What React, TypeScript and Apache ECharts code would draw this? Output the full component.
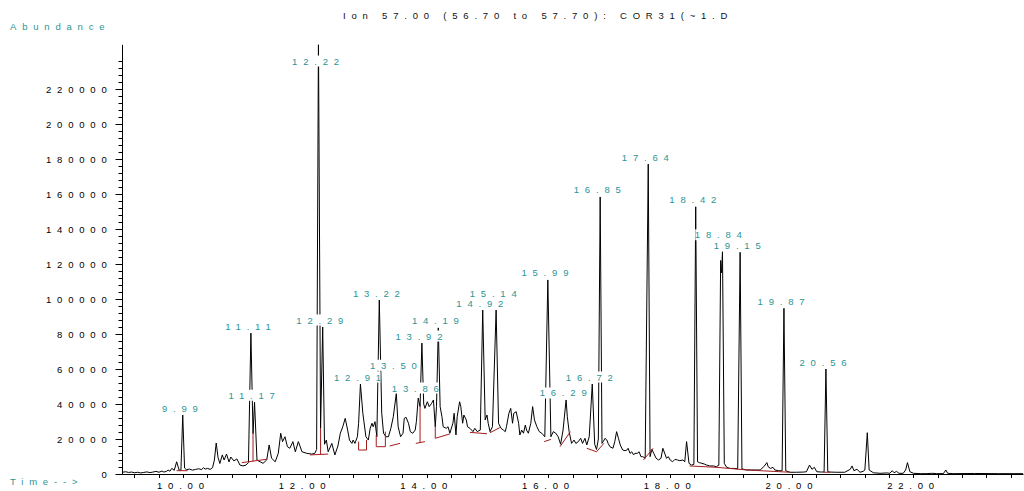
import React, { useEffect, useRef } from 'react';
import * as echarts from 'echarts';

// ---------- texts ----------
const titleText = 'Ion 57.00 (56.70 to 57.70): COR31(~1.D';
const yAxisTitle = 'Abundance';
const xAxisTitle = 'Time-->';

// ---------- data: total ion trace, [time (min), abundance] ----------
const tracePoints: [number, number][] = [
  [9.0, 1000], [9.05, 1300], [9.1, 900], [9.15, 1100], [9.2, 700], [9.25, 1000], [9.3, 600], [9.35, 900],
  [9.4, 1200], [9.45, 800], [9.5, 1100], [9.55, 1500], [9.6, 1000], [9.65, 1700], [9.68, 1100], [9.72, 1500],
  [9.75, 2200], [9.78, 1600], [9.81, 3200], [9.85, 2100], [9.89, 7000], [9.93, 2300], [9.96, 2000], [9.99, 33700],
  [10.02, 3400], [10.05, 2500], [10.1, 2800], [10.15, 2200], [10.2, 2600], [10.25, 3000], [10.3, 2500], [10.33, 3600],
  [10.36, 2800], [10.4, 3200], [10.44, 2600], [10.48, 3600], [10.51, 8000], [10.54, 17700], [10.57, 9500], [10.6, 6000],
  [10.64, 10900], [10.67, 8000], [10.71, 11400], [10.75, 6900], [10.78, 9700], [10.83, 7500], [10.88, 8600], [10.93, 5100],
  [10.98, 4600], [11.03, 5100], [11.07, 6500], [11.11, 80500], [11.145, 23000], [11.17, 41000], [11.21, 8000], [11.26, 7000],
  [11.31, 6100], [11.37, 8000], [11.41, 16600], [11.45, 9000], [11.51, 7000], [11.56, 11800], [11.6, 23300], [11.63, 18500],
  [11.67, 21300], [11.71, 15600], [11.75, 14700], [11.8, 18500], [11.84, 12700], [11.89, 18500], [11.95, 12700], [12.03, 11800],
  [12.11, 11400], [12.16, 11800], [12.19, 14000], [12.22, 250000], [12.255, 26000], [12.29, 84000], [12.32, 17000], [12.35, 19400],
  [12.38, 12700], [12.44, 17500], [12.49, 10900], [12.54, 16000], [12.58, 23300], [12.62, 27000], [12.66, 31800], [12.7, 25100],
  [12.73, 19400], [12.77, 17500], [12.79, 19400], [12.82, 17500], [12.86, 21300], [12.88, 29000], [12.91, 51400], [12.95, 34700],
  [13.0, 21300], [13.04, 19400], [13.07, 26100], [13.1, 29000], [13.12, 27000], [13.15, 29900], [13.18, 21300], [13.22, 99400],
  [13.26, 34700], [13.29, 23300], [13.33, 21300], [13.37, 21300], [13.41, 26100], [13.45, 32700], [13.5, 46100], [13.53, 27000],
  [13.57, 21300], [13.61, 23300], [13.63, 31800], [13.66, 32400], [13.7, 29000], [13.73, 24200], [13.77, 23300], [13.81, 25100],
  [13.83, 30000], [13.86, 43400], [13.89, 38500], [13.92, 74800], [13.95, 40000], [13.97, 37500], [14.01, 41300], [14.04, 38500],
  [14.08, 40400], [14.11, 42300], [14.14, 27000], [14.16, 38500], [14.19, 83500], [14.22, 38500], [14.25, 32700], [14.27, 27000],
  [14.32, 26100], [14.35, 27000], [14.38, 23300], [14.43, 29000], [14.45, 34700], [14.48, 22300], [14.5, 32700], [14.54, 41300],
  [14.56, 38500], [14.59, 29000], [14.61, 33700], [14.65, 30900], [14.67, 27000], [14.71, 26100], [14.76, 24200], [14.79, 26100],
  [14.83, 24200], [14.88, 25100], [14.92, 93700], [14.96, 30900], [14.99, 33700], [15.01, 29000], [15.04, 24200], [15.08, 27000],
  [15.14, 93700], [15.18, 29000], [15.22, 26100], [15.26, 25100], [15.29, 24200], [15.31, 27000], [15.35, 34700], [15.38, 37500],
  [15.41, 29000], [15.43, 34700], [15.47, 35600], [15.51, 29000], [15.53, 22300], [15.56, 25100], [15.59, 23300], [15.62, 28000],
  [15.64, 25100], [15.67, 23300], [15.71, 29000], [15.74, 38500], [15.77, 30900], [15.81, 27000], [15.85, 24200], [15.89, 23300],
  [15.94, 21300], [15.99, 110900], [16.04, 21300], [16.08, 24200], [16.12, 23300], [16.16, 21300], [16.2, 17000], [16.24, 25100],
  [16.29, 42300], [16.31, 32700], [16.34, 24200], [16.38, 17500], [16.42, 19400], [16.45, 17500], [16.49, 18500], [16.53, 20400],
  [16.56, 17500], [16.6, 20400], [16.63, 16600], [16.67, 21300], [16.72, 51400], [16.76, 17000], [16.79, 14000], [16.82, 20000],
  [16.85, 158300], [16.88, 17500], [16.9, 18500], [16.93, 20400], [16.96, 19400], [16.98, 17500], [17.01, 15600], [17.06, 14700],
  [17.09, 18500], [17.12, 24200], [17.15, 20400], [17.18, 16600], [17.22, 13700], [17.26, 13300], [17.29, 13700], [17.31, 14700],
  [17.34, 11800], [17.37, 12700], [17.4, 10900], [17.42, 11800], [17.46, 11800], [17.49, 12700], [17.52, 9900], [17.55, 9900],
  [17.59, 9000], [17.64, 177100], [17.67, 9900], [17.7, 14100], [17.73, 11800], [17.77, 9000], [17.81, 8000], [17.85, 9000],
  [17.88, 14700], [17.92, 10900], [17.94, 9000], [17.97, 9900], [18.0, 8000], [18.04, 7000], [18.08, 8400], [18.12, 8000],
  [18.16, 7600], [18.21, 8000], [18.24, 7000], [18.27, 18500], [18.31, 6100], [18.35, 5100], [18.39, 5500], [18.42, 152700],
  [18.45, 7000], [18.48, 6500], [18.52, 6100], [18.56, 5700], [18.6, 5100], [18.65, 4600], [18.71, 4600], [18.76, 4200],
  [18.8, 5000], [18.83, 122000], [18.845, 115000], [18.86, 127000], [18.89, 6000], [18.93, 3800], [18.98, 3200], [19.04, 3200],
  [19.11, 3000], [19.15, 126700], [19.18, 2900], [19.26, 2300], [19.34, 2300], [19.42, 2300], [19.48, 2300], [19.54, 4200],
  [19.59, 6500], [19.61, 4200], [19.65, 3200], [19.69, 3800], [19.72, 2300], [19.78, 1900], [19.84, 1800], [19.87, 94700],
  [19.9, 1800], [19.97, 1000], [20.08, 1000], [20.19, 1100], [20.24, 1300], [20.29, 5100], [20.33, 2700], [20.37, 3800],
  [20.41, 1300], [20.49, 1100], [20.53, 1200], [20.56, 60000], [20.59, 1300], [20.63, 1100], [20.74, 1000], [20.87, 1000],
  [20.96, 2700], [20.99, 4600], [21.02, 1900], [21.07, 2700], [21.12, 1000], [21.17, 1500], [21.2, 2300], [21.24, 23600],
  [21.27, 2300], [21.34, 700], [21.45, 400], [21.56, 600], [21.61, 400], [21.65, 1900], [21.68, 700], [21.72, 1500],
  [21.76, 400], [21.83, 400], [21.87, 2300], [21.9, 6500], [21.94, 1300], [22.0, 400], [22.11, 200], [22.22, 200],
  [22.3, 400], [22.38, 200], [22.49, 200], [22.53, 2300], [22.56, 400], [22.65, 200], [23.0, 300], [23.4, 200], [23.8, 200],
];

// ---------- data: integration baselines and drop lines ----------
const baselineSegments: [number, number][][] = [
  [[9.89, 1900], [10.07, 1900]],
  [[10.96, 6500], [11.37, 8400]],
  [[11.145, 7200], [11.145, 23000]],
  [[12.08, 10900], [12.38, 11400]],
  [[12.255, 11100], [12.255, 26000]],
  [[12.88, 18500], [12.88, 13700], [13.01, 13700], [13.01, 19400]],
  [[13.17, 22300], [13.17, 15600], [13.32, 15600], [13.32, 24200]],
  [[13.39, 16000], [13.56, 17500]],
  [[13.82, 17500], [13.97, 18500]],
  [[13.89, 17900], [13.89, 38500]],
  [[14.14, 27000], [14.14, 20400], [14.38, 22900]],
  [[14.71, 23800], [14.99, 23000]],
  [[15.04, 23600], [15.2, 26500]],
  [[15.93, 18500], [16.04, 19800]],
  [[16.19, 15600], [16.36, 24200]],
  [[16.63, 14700], [16.79, 12700], [16.91, 17500]],
  [[17.56, 8000], [17.72, 14700]],
  [[18.32, 4600], [18.77, 3800], [19.26, 2300], [19.97, 1000]],
  [[20.52, 1000], [20.63, 1000]],
];

// ---------- data: labelled peaks ----------
const peakLabels = ['9.99', '11.11', '11.17', '12.22', '12.29', '12.91', '13.22', '13.50', '13.86', '13.92', '14.19', '14.92',
  '15.14', '15.99', '16.29', '16.72', '16.85', '17.64', '18.42', '18.84', '19.15', '19.87', '20.56'];
const peakAbundance = [33700, 80500, 41000, 250000, 84000, 51400, 99400, 46100, 43400, 74800, 83500, 93700,
  93700, 110900, 42300, 51400, 158300, 177100, 152700, 127000, 126700, 94700, 60000];

// ---------- axis settings ----------
const xMin = 9.0;
const xMax = 23.8;
const xTickFirst = 9.2;
const xTickLast = 23.6;
const xTickStep = 0.4;
const xLabelStep = 2;
const yMax = 245000;
const yMajorTop = 220000;
const yMajorStep = 20000;
const yMinorTop = 236000;
const yMinorStep = 4000;

// ---------- layout / style ----------
const W = 1024;
const H = 491;
const PLOT_LEFT = 122.5;
const PX_PER_MIN = 60.85;
const Y_ZERO = 474;
const PX_PER_UNIT = 35 / 20000;
const FONT = "'Liberation Sans', Arial, Helvetica, sans-serif";
const FS = 9.5;
const TEAL = '#2b9494';
const RED = '#a31c1c';
const LABEL_CAP = 232000;
const LABEL_W = 46;
const LABEL_H = 11;
const LABEL_GAP = 1.5;
const labelLift: Record<string, number> = { '13.50': 21, '13.86': 3, '15.14': 10, '18.84': 10 };

const xPix = (t: number) => PLOT_LEFT + (t - xMin) * PX_PER_MIN;
const yPix = (v: number) => Y_ZERO - v * PX_PER_UNIT;

export default function App() {
  const ref = useRef<HTMLDivElement>(null);

  useEffect(() => {
    if (!ref.current) return;
    const chart = echarts.init(ref.current, undefined, { renderer: 'svg' });

    const bottom = H - Y_ZERO;
    const mainRight = W - xPix(xMax);
    const grids = [
      { left: PLOT_LEFT, right: mainRight, top: yPix(yMax), bottom },
      { left: xPix(xTickFirst), right: W - xPix(xTickLast), top: yPix(yMax), bottom },
      { left: PLOT_LEFT, right: mainRight, top: yPix(yMajorTop), bottom },
      { left: PLOT_LEFT, right: mainRight, top: yPix(yMinorTop), bottom },
    ];

    const baselineData: (number[] | null)[] = [];
    baselineSegments.forEach((seg, i) => {
      if (i > 0) baselineData.push(null);
      seg.forEach((p) => baselineData.push(p));
    });

    const labelData = peakLabels.map((lab, i) => [parseFloat(lab), Math.min(peakAbundance[i], LABEL_CAP), i]);

    const hidden = { show: false };

    chart.setOption({
      animation: false,
      title: {
        text: titleText,
        left: 343,
        top: 10,
        padding: 0,
        textStyle: { fontSize: FS, fontWeight: 'normal', color: '#111', fontFamily: FONT },
      },
      graphic: [
        { type: 'text', left: 10, top: 21, style: { text: yAxisTitle, fill: TEAL, font: `${FS}px ${FONT}` } },
        { type: 'text', left: 10, top: 476, style: { text: xAxisTitle, fill: TEAL, font: `${FS}px ${FONT}` } },
      ],
      grid: grids,
      xAxis: [
        {
          gridIndex: 0, type: 'value', min: xMin, max: xMax,
          axisLine: { show: true, lineStyle: { color: '#000', width: 1 } },
          axisTick: hidden, axisLabel: hidden, splitLine: hidden,
        },
        {
          gridIndex: 1, type: 'value', min: xTickFirst, max: xTickLast, interval: xTickStep,
          axisLine: hidden,
          axisTick: { show: true, length: 4, lineStyle: { color: '#000', width: 1 } },
          axisLabel: {
            show: true, margin: 6, color: '#000', fontSize: FS, fontFamily: FONT,
            formatter: (v: number) => {
              const r = v / xLabelStep;
              return Math.abs(r - Math.round(r)) < 1e-6 ? v.toFixed(2) : '';
            },
          },
          splitLine: hidden,
        },
        { gridIndex: 2, type: 'value', show: false, min: 0, max: 1 },
        { gridIndex: 3, type: 'value', show: false, min: 0, max: 1 },
      ],
      yAxis: [
        {
          gridIndex: 0, type: 'value', min: 0, max: yMax,
          axisLine: { show: true, lineStyle: { color: '#000', width: 1 } },
          axisTick: hidden, axisLabel: hidden, splitLine: hidden,
        },
        { gridIndex: 1, type: 'value', show: false, min: 0, max: 1 },
        {
          gridIndex: 2, type: 'value', min: 0, max: yMajorTop, interval: yMajorStep,
          axisLine: hidden,
          axisTick: { show: true, length: 7, lineStyle: { color: '#000', width: 1 } },
          axisLabel: { show: true, margin: 10, color: '#000', fontSize: FS, fontFamily: FONT, formatter: (v: number) => String(v) },
          splitLine: hidden,
        },
        {
          gridIndex: 3, type: 'value', min: 0, max: yMinorTop, interval: yMinorStep,
          axisLine: hidden,
          axisTick: { show: true, length: 4, lineStyle: { color: '#000', width: 1 } },
          axisLabel: hidden, splitLine: hidden,
        },
      ],
      series: [
        {
          type: 'line', xAxisIndex: 0, yAxisIndex: 0, data: tracePoints, showSymbol: false, symbol: 'none',
          lineStyle: { color: '#000', width: 1 }, clip: true, z: 2, silent: true,
        },
        {
          type: 'line', xAxisIndex: 0, yAxisIndex: 0, data: baselineData, showSymbol: false, symbol: 'none',
          connectNulls: false, lineStyle: { color: RED, width: 1 }, clip: true, z: 3, silent: true,
        },
        {
          type: 'custom', xAxisIndex: 0, yAxisIndex: 0, data: labelData, z: 10, silent: true, clip: false,
          renderItem: (params: any, api: any) => {
            const idx = api.value(2);
            const lab = peakLabels[idx];
            const pt = api.coord([api.value(0), api.value(1)]);
            const cx = pt[0];
            const cy = pt[1] - LABEL_GAP - (labelLift[lab] || 0) - LABEL_H / 2;
            return {
              type: 'group',
              children: [
                {
                  type: 'rect',
                  shape: { x: cx - LABEL_W / 2 - 3, y: cy - LABEL_H / 2, width: LABEL_W, height: LABEL_H },
                  style: { fill: '#fff' },
                },
                {
                  type: 'text',
                  x: cx,
                  y: cy,
                  style: {
                    text: lab, fill: TEAL, font: `${FS}px ${FONT}`,
                    textAlign: 'center', textVerticalAlign: 'middle',
                  },
                },
              ],
            };
          },
        },
      ],
    });

    return () => chart.dispose();
  }, []);

  return (
    <>
      <style>{'.chrom-chart text { letter-spacing: 5.8px; }'}</style>
      <div
        ref={ref}
        className="chrom-chart"
        style={{ position: 'fixed', left: 0, top: 0, width: W, height: H, background: '#fff' }}
      />
    </>
  );
}
